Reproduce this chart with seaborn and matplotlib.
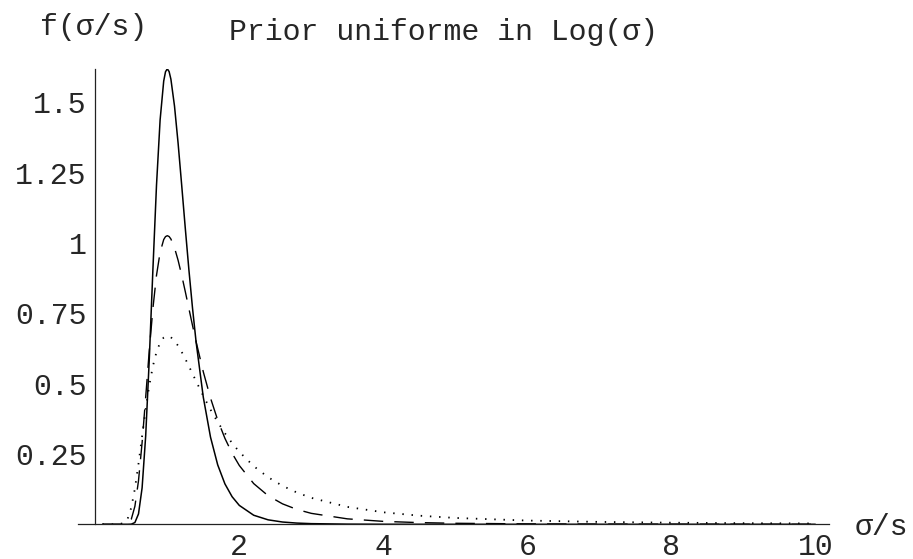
import numpy as np
import pandas as pd
import matplotlib
matplotlib.use("Agg")
import matplotlib.pyplot as plt
from matplotlib.ticker import FixedLocator, FixedFormatter
import seaborn as sns

# sigma/s positions at which the curves were read
x_vals = [0.1, 0.2, 0.3, 0.4, 0.45, 0.5, 0.55, 0.6, 0.65, 0.7, 0.75, 0.8, 0.85, 0.9, 0.95,
          0.975, 1.0, 1.025, 1.05, 1.1, 1.15, 1.2, 1.25, 1.3, 1.35, 1.4, 1.5, 1.6, 1.7, 1.8,
          1.9, 2.0, 2.2, 2.4, 2.6, 2.8, 3.0, 3.5, 4.0, 4.5, 5.0, 6.0, 7.0, 8.0, 9.0, 10.0]

# solid curve (tallest)
f_solid = [0.0, 0.0, 0.0, 0.0, 0.0, 0.0005, 0.0063, 0.0369, 0.1294, 0.3149, 0.5885, 0.9056,
           1.2053, 1.4372, 1.5755, 1.6087, 1.6192, 1.6095, 1.5823, 1.4868, 1.3547, 1.2050,
           1.0518, 0.9046, 0.7690, 0.6480, 0.4516, 0.3100, 0.2113, 0.1438, 0.0981, 0.0672,
           0.0322, 0.0159, 0.0081, 0.0043, 0.0023, 0.0006, 0.0001, 0.0, 0.0, 0.0, 0.0, 0.0,
           0.0, 0.0]

# dashed curve (middle)
f_dashed = [0.0, 0.0, 0.0, 0.0002, 0.0030, 0.0182, 0.0640, 0.1549, 0.2901, 0.4525, 0.6186,
            0.7673, 0.8852, 0.9667, 1.0122, 1.0227, 1.0260, 1.0230, 1.0142, 0.9831, 0.9385,
            0.8851, 0.8270, 0.7669, 0.7071, 0.6491, 0.5419, 0.4489, 0.3706, 0.3058, 0.2526,
            0.2091, 0.1447, 0.1017, 0.0727, 0.0528, 0.0389, 0.0194, 0.0104, 0.0060, 0.0036,
            0.0015, 0.0007, 0.0004, 0.0002, 0.0001]

# dotted curve (lowest peak)
f_dotted = [0.0, 0.0, 0.0, 0.0040, 0.0200, 0.0595, 0.1266, 0.2153, 0.3137, 0.4096, 0.4941,
            0.5623, 0.6127, 0.6458, 0.6640, 0.6681, 0.6694, 0.6682, 0.6648, 0.6525, 0.6345,
            0.6126, 0.5882, 0.5621, 0.5354, 0.5086, 0.4563, 0.4077, 0.3634, 0.3238, 0.2887,
            0.2577, 0.2067, 0.1673, 0.1367, 0.1129, 0.0940, 0.0619, 0.0427, 0.0306, 0.0226,
            0.0133, 0.0085, 0.0057, 0.0040, 0.0030]

x_major = [2, 4, 6, 8, 10]
x_major_labels = ["2", "4", "6", "8", "10"]
y_major = [0.25, 0.5, 0.75, 1.0, 1.25, 1.5]
y_major_labels = ["0.25", "0.5", "0.75", "1", "1.25", "1.5"]

title_text = "Prior uniforme in Log(\u03c3)"
ylabel_text = "f(\u03c3/s)"
xlabel_text = "\u03c3/s"

sns.set_style("white")
plt.rcParams["font.family"] = ["Liberation Mono", "DejaVu Sans"]

W, H = 913, 559
fig = plt.figure(figsize=(W / 100, H / 100), dpi=100)

# axes placement (pixel-derived)
x0_px, px_per_x = 95.3, 72.0
y0_px, px_per_y = 524.3, 281.3
ax_left_px, ax_right_px = 78.0, 829.0
ymax = 1.62
ax_top_px = y0_px - ymax * px_per_y
xmin = (ax_left_px - x0_px) / px_per_x
xmax = (ax_right_px - x0_px) / px_per_x
ax = fig.add_axes([ax_left_px / W, 1 - y0_px / H,
                   (ax_right_px - ax_left_px) / W, (y0_px - ax_top_px) / H])

df_s = pd.DataFrame({"x": x_vals, "y": f_solid})
df_d = pd.DataFrame({"x": x_vals, "y": f_dashed})
df_t = pd.DataFrame({"x": x_vals, "y": f_dotted})

sns.lineplot(data=df_s, x="x", y="y", ax=ax, color="black", linewidth=1.1,
             estimator=None, sort=True)
sns.lineplot(data=df_d, x="x", y="y", ax=ax, color="black", linewidth=1.0,
             estimator=None, sort=True, linestyle=(0, (14, 8)))
sns.lineplot(data=df_t, x="x", y="y", ax=ax, color="black", linewidth=1.3,
             estimator=None, sort=True, linestyle=(0, (0.8, 4.3)))

ax.set_xlim(xmin, xmax)
ax.set_ylim(0, ymax)
ax.set_xlabel("")
ax.set_ylabel("")

for s in ["top", "right"]:
    ax.spines[s].set_visible(False)
ax.spines["left"].set_position(("data", 0))
ax.spines["left"].set_bounds(0, ymax)
ax.spines["bottom"].set_position(("data", 0))
for s in ["left", "bottom"]:
    ax.spines[s].set_color("#222222")
    ax.spines[s].set_linewidth(0.9)

ax.xaxis.set_major_locator(FixedLocator(x_major))
ax.xaxis.set_major_formatter(FixedFormatter(x_major_labels))
ax.xaxis.set_minor_locator(FixedLocator([v * 0.5 for v in range(1, 21) if v % 4 != 0]))
ax.yaxis.set_major_locator(FixedLocator(y_major))
ax.yaxis.set_major_formatter(FixedFormatter(y_major_labels))
ax.yaxis.set_minor_locator(FixedLocator([round(v * 0.05, 2) for v in range(1, 33) if v % 5 != 0]))

ax.tick_params(axis="x", which="major", direction="in", length=3.0, width=0.8,
               labelsize=21.5, pad=6.0, color="#222222")
ax.tick_params(axis="x", which="minor", direction="in", length=1.6, width=0.7, color="#222222")
ax.tick_params(axis="y", which="major", direction="in", length=3.6, width=0.8,
               labelsize=21.5, pad=6.3, color="#222222")
ax.tick_params(axis="y", which="minor", direction="in", length=2.2, width=0.7, color="#222222")
ax.grid(False)

fig.text(229 / W, 1 - 32 / H, title_text, ha="left", va="center", fontsize=21.5)
fig.text(40 / W, 1 - 27 / H, ylabel_text, ha="left", va="center", fontsize=21.5)
fig.text(855 / W, 1 - 527 / H, xlabel_text, ha="left", va="center", fontsize=21.5)

fig.savefig("out.png", dpi=100, facecolor="white")
